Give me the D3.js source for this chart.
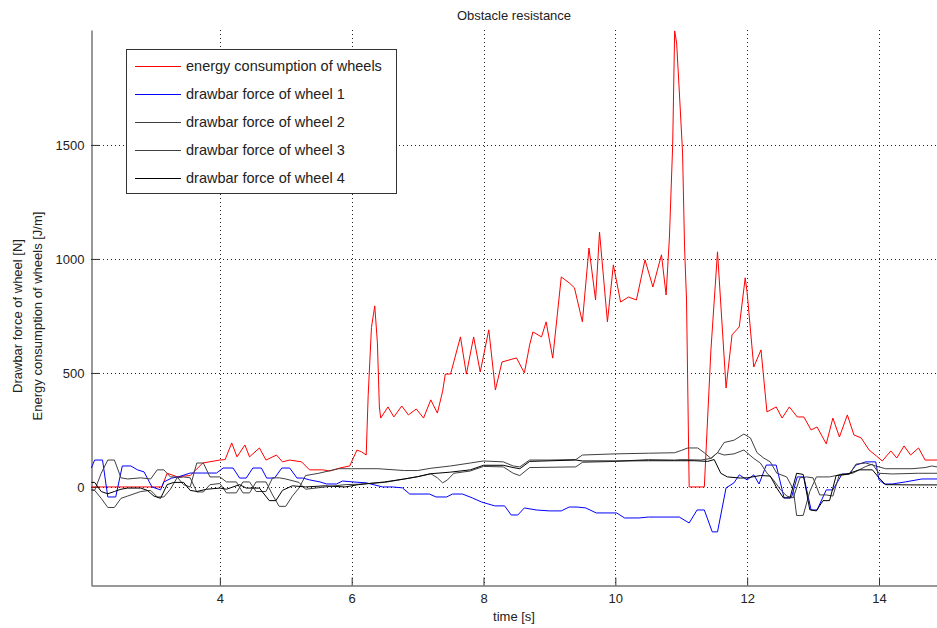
<!DOCTYPE html>
<html>
<head>
<meta charset="utf-8">
<script src="https://cdn.jsdelivr.net/npm/d3@7"></script>
<style>
  body { margin: 0; background: #fff; }
  text { font-family: "Liberation Sans", Arial, sans-serif; fill: #222; }
</style>
</head>
<body>
<div id="chart"></div>
<script>
// values: [time s, value]
var energy = [[2.05,0],[3.12,0],[3.2,60],[3.35,45],[3.55,50],[3.74,105],[4.0,118],[4.08,120],[4.18,193],[4.26,132],[4.38,184],[4.45,132],[4.6,171],[4.7,118],[4.86,140],[4.95,110],[5.06,118],[5.24,110],[5.36,75],[5.56,75],[5.67,70],[5.82,83],[5.97,92],[6.08,162],[6.15,154],[6.22,140],[6.25,400],[6.3,700],[6.35,794],[6.39,632],[6.42,351],[6.44,302],[6.55,351],[6.64,307],[6.76,355],[6.86,316],[6.98,342],[7.09,302],[7.2,382],[7.3,324],[7.38,420],[7.42,495],[7.5,495],[7.65,658],[7.74,495],[7.85,658],[7.95,504],[8.08,689],[8.18,425],[8.28,548],[8.5,566],[8.62,500],[8.7,623],[8.75,680],[8.88,658],[8.95,724],[9.05,565],[9.18,921],[9.3,895],[9.38,873],[9.5,724],[9.6,1048],[9.7,820],[9.76,1118],[9.88,724],[9.97,974],[10.08,811],[10.2,833],[10.32,820],[10.45,996],[10.57,877],[10.7,1018],[10.77,842],[10.82,1092],[10.87,1500],[10.9,2000],[10.93,1947],[10.98,1684],[11.02,1465],[11.05,1053],[11.08,820],[11.12,0],[11.35,0],[11.45,600],[11.55,1031],[11.68,434],[11.77,667],[11.88,702],[11.97,917],[12.0,851],[12.1,526],[12.21,601],[12.3,329],[12.44,351],[12.53,302],[12.64,351],[12.76,307],[12.86,307],[12.97,250],[13.06,263],[13.2,189],[13.3,302],[13.4,219],[13.52,316],[13.62,228],[13.73,215],[13.85,162],[13.96,136],[14.05,114],[14.18,158],[14.27,127],[14.38,180],[14.48,140],[14.6,171],[14.7,118],[14.88,118]];

var wheel1 = [[2.05,83],[2.1,118],[2.22,118],[2.3,-44],[2.42,-44],[2.52,92],[2.65,92],[2.75,75],[2.85,66],[2.97,0],[3.1,-13],[3.15,22],[3.27,39],[3.37,44],[3.55,61],[3.74,61],[3.95,61],[4.05,83],[4.2,83],[4.3,39],[4.4,39],[4.5,83],[4.63,83],[4.71,39],[4.83,39],[4.94,83],[5.06,83],[5.17,39],[5.26,39],[5.36,31],[5.52,22],[5.62,13],[5.77,13],[5.86,26],[6.02,22],[6.22,18],[6.47,0],[6.62,0],[6.77,-4],[6.88,-31],[7.18,-31],[7.28,-44],[7.44,-44],[7.53,-31],[7.68,-31],[7.83,-48],[7.97,-66],[8.17,-83],[8.32,-83],[8.42,-123],[8.52,-123],[8.62,-92],[8.8,-101],[9.0,-105],[9.18,-105],[9.3,-88],[9.42,-88],[9.55,-92],[9.71,-114],[9.86,-114],[10.02,-114],[10.14,-136],[10.36,-136],[10.5,-132],[10.97,-132],[11.12,-158],[11.24,-101],[11.35,-101],[11.47,-197],[11.55,-197],[11.68,-4],[11.8,18],[11.88,53],[12.0,31],[12.1,53],[12.18,13],[12.29,96],[12.44,96],[12.56,-48],[12.67,-48],[12.76,44],[12.86,44],[12.97,-101],[13.06,-101],[13.2,-13],[13.3,-13],[13.44,57],[13.55,57],[13.65,96],[13.8,110],[13.95,110],[14.0,31],[14.08,13],[14.2,13],[14.4,22],[14.65,35],[14.88,35]];

var wheel2 = [[2.05,-15],[2.1,-15],[2.2,60],[2.3,118],[2.4,118],[2.5,40],[2.6,35],[2.8,40],[2.95,35],[3.05,75],[3.15,75],[3.25,44],[3.35,44],[3.45,10],[3.55,0],[3.65,105],[3.75,105],[3.85,44],[4.0,44],[4.1,22],[4.25,22],[4.35,-26],[4.45,-26],[4.55,22],[4.7,22],[4.8,-35],[4.9,-85],[5.0,-85],[5.1,-40],[5.2,-5],[5.3,50],[5.5,60],[5.8,80],[6.0,80],[6.4,80],[6.8,72],[7.0,72],[7.2,82],[7.5,92],[7.8,105],[8.0,114],[8.3,110],[8.45,92],[8.55,88],[8.7,118],[9.0,118],[9.4,120],[9.5,140],[10.0,145],[10.5,148],[10.9,150],[11.0,160],[11.1,171],[11.25,171],[11.35,150],[11.45,125],[11.55,150],[11.65,195],[11.8,205],[11.95,232],[12.05,215],[12.15,150],[12.25,127],[12.35,110],[12.45,60],[12.6,44],[12.7,-10],[12.75,-125],[12.85,-125],[12.95,-20],[13.05,44],[13.25,44],[13.4,53],[13.55,55],[13.65,100],[13.8,105],[13.95,92],[14.1,80],[14.5,80],[14.7,85],[14.8,92],[14.88,88]];

var wheel3 = [[2.05,-10],[2.1,-15],[2.2,-50],[2.3,-90],[2.4,-90],[2.5,-50],[2.6,-40],[2.8,-20],[2.95,-15],[3.05,-44],[3.15,-44],[3.25,-10],[3.35,40],[3.45,44],[3.55,40],[3.65,-22],[3.75,-22],[3.85,10],[4.0,15],[4.1,-26],[4.25,-26],[4.35,22],[4.45,22],[4.55,-20],[4.7,-20],[4.8,40],[4.9,40],[5.0,35],[5.2,20],[5.3,-10],[5.6,0],[5.9,10],[6.1,12],[6.5,20],[6.8,35],[7.0,45],[7.2,58],[7.3,40],[7.38,18],[7.45,30],[7.55,60],[7.8,70],[8.0,90],[8.3,88],[8.45,60],[8.55,50],[8.7,85],[9.4,88],[9.5,108],[10.0,112],[10.5,120],[10.9,118],[11.0,120],[11.3,118],[11.45,125],[11.55,150],[11.65,140],[11.8,145],[11.95,162],[12.1,125],[12.2,105],[12.3,61],[12.4,30],[12.5,-10],[12.6,-40],[12.7,-48],[12.8,40],[12.9,44],[13.0,40],[13.1,-35],[13.2,-35],[13.3,-40],[13.4,55],[13.6,60],[13.8,90],[13.9,100],[14.0,60],[14.2,57],[14.6,60],[14.88,60]];

var wheel4 = [[2.05,20],[2.1,20],[2.2,-20],[2.3,-30],[2.4,-20],[2.5,-10],[2.6,-5],[2.8,-5],[2.9,-15],[3.0,-40],[3.1,-50],[3.2,10],[3.3,20],[3.45,20],[3.55,-15],[3.65,-20],[3.8,-10],[4.0,-5],[4.1,-10],[4.3,10],[4.4,-5],[4.6,-5],[4.75,-60],[4.85,-60],[4.95,-15],[5.1,5],[5.3,0],[5.6,5],[5.9,0],[6.1,10],[6.5,22],[6.8,35],[7.0,45],[7.2,58],[7.5,65],[7.8,75],[8.0,95],[8.3,95],[8.45,85],[8.55,80],[8.7,112],[9.4,118],[9.5,114],[10.0,114],[10.5,115],[10.9,115],[11.2,115],[11.4,112],[11.5,120],[11.6,60],[11.7,44],[11.9,39],[12.0,40],[12.2,50],[12.35,48],[12.45,-5],[12.55,-48],[12.65,-48],[12.75,60],[12.85,55],[12.95,-100],[13.05,-105],[13.15,-60],[13.25,-60],[13.35,50],[13.5,55],[13.7,75],[13.9,75],[14.0,40],[14.1,10],[14.5,9],[14.88,9]];

var seriesNames = ["energy consumption of wheels", "drawbar force of wheel 1",
  "drawbar force of wheel 2", "drawbar force of wheel 3", "drawbar force of wheel 4"];
var seriesColors = ["#ff0000", "#0000ff", "#404040", "#404040", "#000000"];
var xTicks = [4, 6, 8, 10, 12, 14];
var yTicks = [0, 500, 1000, 1500];

var W = 937, H = 628;
var margin = {top: 30, right: 0, bottom: 43, left: 91};

var svg = d3.select("#chart").append("svg")
  .attr("width", W)
  .attr("height", H);

var x = d3.scaleLinear().domain([2.045, 14.88]).range([margin.left, W - margin.right]);
var y = d3.scaleLinear().domain([-430, 2004]).range([H - margin.bottom, margin.top]);

// dotted grid
svg.append("g").selectAll("line")
  .data(xTicks).enter().append("line")
    .attr("x1", function(d) { return Math.round(x(d)) + 0.5; })
    .attr("x2", function(d) { return Math.round(x(d)) + 0.5; })
    .attr("y1", y.range()[1]).attr("y2", y.range()[0])
    .attr("stroke", "#222").attr("stroke-dasharray", "1,3");
svg.append("g").selectAll("line")
  .data(yTicks).enter().append("line")
    .attr("y1", function(d) { return Math.round(y(d)) + 0.5; })
    .attr("y2", function(d) { return Math.round(y(d)) + 0.5; })
    .attr("x1", x.range()[0]).attr("x2", x.range()[1])
    .attr("stroke", "#222").attr("stroke-dasharray", "1,3");

// axes, ticks inside like matlab
var xAxis = svg.append("g")
  .attr("transform", "translate(0," + (H - margin.bottom + 0.5) + ")")
  .call(d3.axisBottom(x).tickValues(xTicks).tickSizeInner(-8).tickSizeOuter(0).tickPadding(8));
var yAxis = svg.append("g")
  .attr("transform", "translate(" + (margin.left + 0.5) + ",0)")
  .call(d3.axisLeft(y).tickValues(yTicks).tickFormat(d3.format("d"))
    .tickSizeInner(-8).tickSizeOuter(0).tickPadding(7));
[xAxis, yAxis].forEach(function(a) {
  a.select(".domain").attr("stroke", "#333");
  a.selectAll(".tick line").attr("stroke", "#333");
  a.selectAll(".tick text").style("font-size", "13px").attr("fill", "#222")
    .style("font-family", "'Liberation Sans', Arial, sans-serif");
});

// lines
var line = d3.line()
  .x(function(d) { return x(d[0]); })
  .y(function(d) { return y(d[1]); });

var allSeries = [energy, wheel1, wheel2, wheel3, wheel4];
svg.append("g").selectAll("path")
  .data(allSeries).enter().append("path")
    .attr("d", line)
    .attr("fill", "none")
    .attr("stroke", function(d, i) { return seriesColors[i]; })
    .attr("stroke-width", 1);

// title and labels
svg.append("text")
  .attr("x", (margin.left + W) / 2).attr("y", 20)
  .attr("text-anchor", "middle").style("font-size", "13px")
  .text("Obstacle resistance");
svg.append("text")
  .attr("x", (margin.left + W) / 2).attr("y", 621)
  .attr("text-anchor", "middle").style("font-size", "13px")
  .text("time [s]");
svg.append("text")
  .attr("transform", "translate(22,316) rotate(-90)")
  .attr("text-anchor", "middle").style("font-size", "13px")
  .text("Drawbar force of wheel [N]");
svg.append("text")
  .attr("transform", "translate(42,316) rotate(-90)")
  .attr("text-anchor", "middle").style("font-size", "13px")
  .text("Energy consumption of wheels [J/m]");

// legend
var legend = svg.append("g");
legend.append("rect")
  .attr("x", 126.5).attr("y", 49.5).attr("width", 270).attr("height", 144)
  .attr("fill", "#fff").attr("stroke", "#333");
var rows = legend.selectAll("g.row")
  .data(seriesNames).enter().append("g")
    .attr("class", "row")
    .attr("transform", function(d, i) { return "translate(0," + (66 + i * 28) + ")"; });
rows.append("line")
  .attr("x1", 135).attr("x2", 181).attr("y1", 0.5).attr("y2", 0.5)
  .attr("stroke", function(d, i) { return seriesColors[i]; });
rows.append("text")
  .attr("x", 186).attr("y", 5)
  .style("font-size", "14.5px")
  .text(function(d) { return d; });
</script>
</body>
</html>
